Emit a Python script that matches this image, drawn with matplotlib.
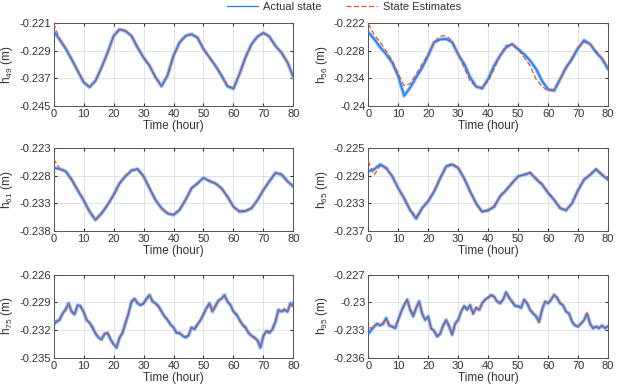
import numpy as np
import matplotlib
matplotlib.use("Agg")
import matplotlib.pyplot as plt
from matplotlib.lines import Line2D

plt.rcParams['font.family'] = ['Liberation Sans', 'DejaVu Sans']
plt.rcParams['mathtext.fontset'] = 'custom'
plt.rcParams['mathtext.rm'] = 'Liberation Sans'
plt.rcParams['mathtext.it'] = 'Liberation Sans:italic'

# time axes (hours)
t_coarse = np.arange(0, 81, 2)
t_fine = np.arange(0, 81, 1)

# h49
h49_actual = [-0.2234, -0.2258, -0.2284, -0.2315, -0.2348, -0.2381, -0.2396, -0.2377, -0.2339, -0.2296,
              -0.2248, -0.2229, -0.2234, -0.2248, -0.2281, -0.2310, -0.2334, -0.2367, -0.2393, -0.2362,
              -0.2305, -0.2267, -0.2248, -0.2243, -0.2253, -0.2286, -0.2310, -0.2334, -0.2362, -0.2393,
              -0.2400, -0.2358, -0.2310, -0.2272, -0.2250, -0.2239, -0.2250, -0.2277, -0.2296, -0.2324,
              -0.2367]
h49_est = [-0.2212, -0.2256, -0.2285, -0.2314, -0.2349, -0.2380, -0.2395, -0.2376, -0.2340, -0.2297,
           -0.2249, -0.2230, -0.2233, -0.2249, -0.2280, -0.2311, -0.2335, -0.2366, -0.2392, -0.2361,
           -0.2306, -0.2268, -0.2249, -0.2244, -0.2252, -0.2285, -0.2311, -0.2335, -0.2361, -0.2392,
           -0.2399, -0.2357, -0.2311, -0.2273, -0.2251, -0.2240, -0.2251, -0.2276, -0.2297, -0.2325,
           -0.2366]

# h56
h56_actual = [-0.2240, -0.2255, -0.2273, -0.2288, -0.2306, -0.2335, -0.2378, -0.2360, -0.2338, -0.2317,
              -0.2291, -0.2262, -0.2256, -0.2255, -0.2262, -0.2288, -0.2309, -0.2338, -0.2358, -0.2362,
              -0.2342, -0.2313, -0.2291, -0.2273, -0.2266, -0.2277, -0.2288, -0.2302, -0.2320, -0.2346,
              -0.2364, -0.2367, -0.2342, -0.2317, -0.2298, -0.2275, -0.2258, -0.2266, -0.2284, -0.2298,
              -0.2320]
h56_est = [-0.2222, -0.2246, -0.2262, -0.2281, -0.2302, -0.2331, -0.2356, -0.2352, -0.2331, -0.2309,
           -0.2288, -0.2262, -0.2249, -0.2248, -0.2259, -0.2288, -0.2317, -0.2346, -0.2358, -0.2360,
           -0.2346, -0.2320, -0.2291, -0.2269, -0.2268, -0.2277, -0.2295, -0.2313, -0.2342, -0.2358,
           -0.2367, -0.2364, -0.2342, -0.2317, -0.2295, -0.2273, -0.2262, -0.2266, -0.2281, -0.2298,
           -0.2317]

# h61
h61_actual = [-0.2266, -0.2268, -0.2272, -0.2287, -0.2306, -0.2324, -0.2345, -0.2360, -0.2348, -0.2333,
              -0.2315, -0.2294, -0.2281, -0.2271, -0.2268, -0.2281, -0.2303, -0.2324, -0.2339, -0.2348,
              -0.2351, -0.2342, -0.2324, -0.2303, -0.2294, -0.2284, -0.2290, -0.2294, -0.2303, -0.2318,
              -0.2336, -0.2345, -0.2344, -0.2339, -0.2324, -0.2306, -0.2290, -0.2275, -0.2278, -0.2290,
              -0.2300]
h61_est = [-0.2250, -0.2267, -0.2273, -0.2288, -0.2305, -0.2325, -0.2344, -0.2359, -0.2349, -0.2332,
           -0.2316, -0.2293, -0.2282, -0.2270, -0.2269, -0.2282, -0.2302, -0.2325, -0.2338, -0.2349,
           -0.2350, -0.2341, -0.2325, -0.2302, -0.2295, -0.2285, -0.2289, -0.2295, -0.2302, -0.2319,
           -0.2337, -0.2344, -0.2343, -0.2338, -0.2325, -0.2305, -0.2291, -0.2276, -0.2277, -0.2291,
           -0.2299]

# h65
h65_actual = [-0.2284, -0.2281, -0.2274, -0.2279, -0.2291, -0.2308, -0.2323, -0.2340, -0.2352, -0.2337,
              -0.2327, -0.2313, -0.2294, -0.2277, -0.2274, -0.2279, -0.2294, -0.2313, -0.2330, -0.2342,
              -0.2340, -0.2335, -0.2320, -0.2311, -0.2301, -0.2291, -0.2289, -0.2286, -0.2295, -0.2303,
              -0.2315, -0.2325, -0.2337, -0.2340, -0.2330, -0.2311, -0.2296, -0.2289, -0.2281, -0.2289,
              -0.2296]
h65_est = [-0.2269, -0.2289, -0.2276, -0.2280, -0.2290, -0.2309, -0.2322, -0.2339, -0.2350, -0.2336,
           -0.2326, -0.2312, -0.2293, -0.2276, -0.2273, -0.2278, -0.2293, -0.2312, -0.2331, -0.2343,
           -0.2341, -0.2334, -0.2319, -0.2310, -0.2300, -0.2292, -0.2288, -0.2285, -0.2294, -0.2302,
           -0.2314, -0.2324, -0.2336, -0.2341, -0.2329, -0.2310, -0.2295, -0.2288, -0.2280, -0.2288,
           -0.2295]

# h75 (hourly)
h75_actual = [-0.2314, -0.2311, -0.2309, -0.2302, -0.2298, -0.2291, -0.2300, -0.2303, -0.2293, -0.2294,
              -0.2300, -0.2309, -0.2312, -0.2317, -0.2324, -0.2328, -0.2330, -0.2324, -0.2323, -0.2330,
              -0.2335, -0.2339, -0.2328, -0.2323, -0.2312, -0.2302, -0.2289, -0.2286, -0.2291, -0.2293,
              -0.2291, -0.2286, -0.2282, -0.2289, -0.2291, -0.2294, -0.2300, -0.2305, -0.2309, -0.2314,
              -0.2317, -0.2323, -0.2323, -0.2326, -0.2328, -0.2326, -0.2317, -0.2319, -0.2314, -0.2309,
              -0.2303, -0.2296, -0.2291, -0.2300, -0.2294, -0.2288, -0.2286, -0.2282, -0.2289, -0.2293,
              -0.2300, -0.2303, -0.2309, -0.2314, -0.2317, -0.2323, -0.2326, -0.2328, -0.2331, -0.2339,
              -0.2326, -0.2321, -0.2323, -0.2319, -0.2311, -0.2298, -0.2300, -0.2298, -0.2300, -0.2291,
              -0.2294]
h75_est = [-0.2311, -0.2310, -0.2307, -0.2303, -0.2297, -0.2292, -0.2299, -0.2302, -0.2294, -0.2295,
           -0.2301, -0.2308, -0.2313, -0.2318, -0.2323, -0.2327, -0.2331, -0.2325, -0.2322, -0.2329,
           -0.2336, -0.2337, -0.2329, -0.2322, -0.2313, -0.2301, -0.2290, -0.2287, -0.2290, -0.2292,
           -0.2292, -0.2287, -0.2283, -0.2288, -0.2292, -0.2295, -0.2299, -0.2306, -0.2308, -0.2313,
           -0.2318, -0.2322, -0.2324, -0.2325, -0.2327, -0.2325, -0.2318, -0.2318, -0.2313, -0.2310,
           -0.2302, -0.2297, -0.2292, -0.2299, -0.2293, -0.2289, -0.2285, -0.2283, -0.2290, -0.2292,
           -0.2301, -0.2304, -0.2308, -0.2315, -0.2318, -0.2322, -0.2327, -0.2329, -0.2330, -0.2337,
           -0.2327, -0.2320, -0.2322, -0.2318, -0.2310, -0.2299, -0.2299, -0.2297, -0.2301, -0.2292,
           -0.2295]

# h95 (hourly)
h95_actual = [-0.2334, -0.2330, -0.2326, -0.2323, -0.2325, -0.2323, -0.2317, -0.2325, -0.2326, -0.2328,
              -0.2319, -0.2310, -0.2303, -0.2297, -0.2308, -0.2315, -0.2306, -0.2299, -0.2312, -0.2319,
              -0.2315, -0.2328, -0.2331, -0.2337, -0.2334, -0.2325, -0.2319, -0.2326, -0.2335, -0.2323,
              -0.2319, -0.2310, -0.2304, -0.2308, -0.2303, -0.2312, -0.2306, -0.2308, -0.2301, -0.2297,
              -0.2295, -0.2292, -0.2294, -0.2299, -0.2301, -0.2297, -0.2289, -0.2295, -0.2299, -0.2304,
              -0.2304, -0.2306, -0.2297, -0.2301, -0.2308, -0.2312, -0.2315, -0.2321, -0.2308, -0.2299,
              -0.2301, -0.2297, -0.2292, -0.2295, -0.2301, -0.2303, -0.2310, -0.2312, -0.2321, -0.2325,
              -0.2326, -0.2323, -0.2319, -0.2312, -0.2323, -0.2328, -0.2326, -0.2328, -0.2325, -0.2328,
              -0.2326]
h95_est = [-0.2327, -0.2328, -0.2325, -0.2324, -0.2324, -0.2322, -0.2318, -0.2324, -0.2327, -0.2327,
           -0.2318, -0.2311, -0.2302, -0.2298, -0.2307, -0.2314, -0.2305, -0.2300, -0.2313, -0.2318,
           -0.2316, -0.2329, -0.2330, -0.2336, -0.2333, -0.2326, -0.2320, -0.2325, -0.2334, -0.2324,
           -0.2318, -0.2311, -0.2303, -0.2307, -0.2304, -0.2313, -0.2305, -0.2309, -0.2300, -0.2298,
           -0.2294, -0.2293, -0.2293, -0.2300, -0.2300, -0.2296, -0.2290, -0.2294, -0.2300, -0.2303,
           -0.2305, -0.2305, -0.2298, -0.2300, -0.2309, -0.2311, -0.2316, -0.2322, -0.2307, -0.2300,
           -0.2300, -0.2298, -0.2291, -0.2296, -0.2300, -0.2304, -0.2309, -0.2313, -0.2320, -0.2324,
           -0.2327, -0.2322, -0.2320, -0.2311, -0.2324, -0.2327, -0.2327, -0.2327, -0.2326, -0.2327,
           -0.2325]

panels = [
    ('49', t_coarse, h49_actual, h49_est, [-0.245, -0.237, -0.229, -0.221], ['-0.245', '-0.237', '-0.229', '-0.221']),
    ('56', t_coarse, h56_actual, h56_est, [-0.24, -0.234, -0.228, -0.222], ['-0.24', '-0.234', '-0.228', '-0.222']),
    ('61', t_coarse, h61_actual, h61_est, [-0.238, -0.233, -0.228, -0.223], ['-0.238', '-0.233', '-0.228', '-0.223']),
    ('65', t_coarse, h65_actual, h65_est, [-0.237, -0.233, -0.229, -0.225], ['-0.237', '-0.233', '-0.229', '-0.225']),
    ('75', t_fine, h75_actual, h75_est, [-0.235, -0.232, -0.229, -0.226], ['-0.235', '-0.232', '-0.229', '-0.226']),
    ('95', t_fine, h95_actual, h95_est, [-0.236, -0.233, -0.23, -0.227], ['-0.236', '-0.233', '-0.23', '-0.227']),
]

text_col = '#333333'
blue = '#2a7bf0'
halo = '#9cc4ff'
red = '#e0532b'

fig = plt.figure(figsize=(6.23, 3.89), dpi=100)
lefts = [0.086, 0.591]
bottoms = [0.7275, 0.406, 0.080]
w, h = 0.385, 0.214

for i, (name, t, act, est, yt, ytl) in enumerate(panels):
    ax = fig.add_axes([lefts[i % 2], bottoms[i // 2], w, h])
    ax.plot(t, act, color=halo, lw=2.8, solid_joinstyle='round', zorder=2)
    ax.plot(t, act, color=blue, lw=1.2, zorder=3)
    ax.plot(t, est, color=red, lw=0.9, dashes=(4, 2), zorder=4)
    ax.set_xlim(0, 80)
    ax.set_ylim(yt[0], yt[-1])
    ax.set_xticks(range(0, 81, 10))
    ax.set_yticks(yt)
    ax.set_yticklabels(ytl)
    ax.grid(True, color='#dedede', lw=0.6)
    ax.tick_params(direction='in', length=2.5, labelsize=8, colors=text_col,
                   top=True, right=True, pad=2)
    for s in ax.spines.values():
        s.set_color('#555555')
        s.set_linewidth(0.7)
    ax.set_xlabel('Time (hour)', fontsize=8.5, color=text_col, labelpad=1)
    ax.set_ylabel(r'h$_{%s}$ (m)' % name, fontsize=8.5, color=text_col, labelpad=3)

handles = [Line2D([], [], color=blue, lw=0.9),
           Line2D([], [], color=red, lw=0.9, dashes=(4, 2))]
fig.legend(handles, ['Actual state', 'State Estimates'], loc='center',
           bbox_to_anchor=(0.552, 0.982), ncol=2, frameon=False, fontsize=8,
           handlelength=2.8, columnspacing=2.2, handletextpad=0.5,
           labelcolor=text_col)

fig.savefig('out.png', dpi=100)
